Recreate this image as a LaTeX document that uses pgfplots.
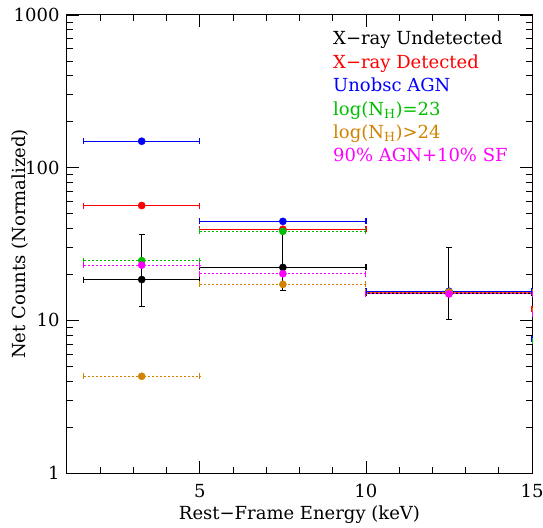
\documentclass[border=0pt]{standalone}
\usepackage{pgfplots}
\pgfplotsset{compat=1.18}
\usepackage{fontspec}
\setmainfont{DejaVu Serif}
\usetikzlibrary{calc}
\definecolor{cred}{RGB}{255,0,0}
\definecolor{cblue}{RGB}{0,0,255}
\definecolor{cgreen}{RGB}{0,190,0}
\definecolor{corange}{RGB}{210,130,0}
\definecolor{cmag}{RGB}{255,0,255}

% bin widths drawn as segments with end caps, centres as filled dots
\pgfplotsset{
  seg/.style={line width=1.2pt, mark=|, mark size=3pt, unbounded coords=jump},
  dseg/.style={line width=1pt, mark=|, mark size=3pt, unbounded coords=jump,
    dash pattern=on 2pt off 2pt, mark options={solid}},
  pts/.style={only marks, mark=*, mark size=3.6pt, mark options={solid}},
}

\begin{document}
\begin{tikzpicture}
\begin{axis}[
  scale only axis, width=465pt, height=458pt,
  ymode=log, xmin=1, xmax=15, ymin=1, ymax=1000,
  xtick={5,10,15}, xticklabels={5,10,15},
  minor xtick={2,3,4,6,7,8,9,11,12,13,14},
  ytick={1,10,100,1000}, yticklabels={1,10,100,1000},
  minor ytick={2,3,4,5,6,7,8,9,20,30,40,50,60,70,80,90,200,300,400,500,600,700,800,900},
  tick align=inside, major tick length=12pt, minor tick length=6pt,
  every tick/.style={black, line width=0.8pt},
  axis line style={line width=1pt},
  font=\fontsize{18}{20}\selectfont,
  xticklabel style={yshift=-8pt},
  yticklabel style={xshift=-4pt},
  xlabel={Rest−Frame Energy (keV)}, ylabel={Net Counts (Normalized)},
  xlabel style={at={(axis description cs:0.5,-0.0917)}, anchor=center},
  ylabel style={at={(axis description cs:-0.101,0.5)}, anchor=center},
]
% X-ray undetected
\addplot[seg, black] coordinates {(1.5,18.5) (5,18.5) (5,nan) (5,22.2) (10,22.2) (10,nan) (10,15.0) (15,15.0)};
\addplot[pts, black, error bars/.cd, y dir=both, y explicit,
    error bar style={line width=1pt},
    error mark options={rotate=90, mark size=3pt, line width=1pt}]
  table[x=x, y=y, y error plus=ep, y error minus=em] {
  x     y     ep    em
  3.25  18.5  17.8  6.2
  7.5   22.2  16.8  6.6
  12.5  15.0  15.1  4.9
};
% X-ray detected
\addplot[seg, cred] coordinates {(1.5,56.5) (5,56.5) (5,nan) (5,39.5) (10,39.5) (10,nan) (10,15.3) (15,15.3) (15,nan) (15,11.8) (20,11.8)};
\addplot[pts, cred] coordinates {(3.25,56.5) (7.5,39.5) (12.5,15.3)};
% unobscured AGN
\addplot[seg, cblue] coordinates {(1.5,149) (5,149) (5,nan) (5,44.5) (10,44.5) (10,nan) (10,15.5) (15,15.5) (15,nan) (15,7.5) (20,7.5)};
\addplot[pts, cblue] coordinates {(3.25,149) (7.5,44.5) (12.5,15.5)};
% log NH = 23
\addplot[dseg, cgreen] coordinates {(1.5,24.6) (5,24.6) (5,nan) (5,38.3) (10,38.3) (10,nan) (10,15.3) (15,15.3) (15,nan) (15,7.3) (20,7.3)};
\addplot[pts, cgreen] coordinates {(3.25,24.6) (7.5,38.3) (12.5,15.3)};
% log NH > 24
\addplot[dseg, corange] coordinates {(1.5,4.3) (5,4.3) (5,nan) (5,17.2) (10,17.2) (10,nan) (10,15.3) (15,15.3) (15,nan) (15,11.5) (20,11.5)};
\addplot[pts, corange] coordinates {(3.25,4.3) (7.5,17.2) (12.5,15.3)};
% 90% AGN + 10% SF
\addplot[dseg, cmag] coordinates {(1.5,23.0) (5,23.0) (5,nan) (5,20.2) (10,20.2) (10,nan) (10,14.9) (15,14.9) (15,nan) (15,11.0) (20,11.0)};
\addplot[pts, cmag] coordinates {(3.25,23.0) (7.5,20.2) (12.5,14.9)};
\node[anchor=north west, align=left, inner sep=0pt,
      font=\fontsize{18}{23.4}\selectfont] at (rel axis cs:0.572,0.965) {
  X−ray Undetected\\
  \textcolor{cred}{X−ray Detected}\\
  \textcolor{cblue}{Unobsc AGN}\\
  \textcolor{cgreen}{log(N\textsubscript{H})=23}\\
  \textcolor{corange}{log(N\textsubscript{H})>24}\\
  \textcolor{cmag}{90\% AGN+10\% SF}};
\end{axis}
\pgfresetboundingbox
\path[use as bounding box] ($(current axis.south west)+(-67pt,-54pt)$) rectangle ($(current axis.north east)+(11pt,15pt)$);
\end{tikzpicture}
\end{document}
